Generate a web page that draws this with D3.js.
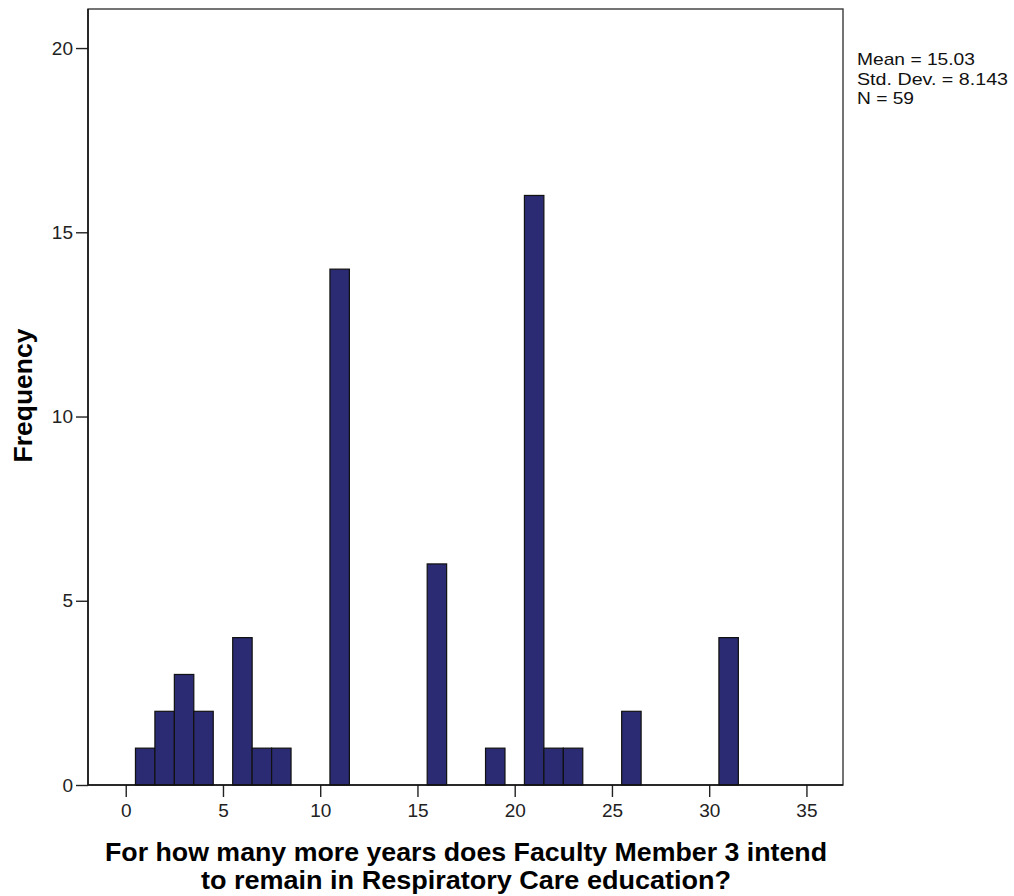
<!DOCTYPE html>
<html>
<head>
<meta charset="utf-8">
<script src="https://cdn.jsdelivr.net/npm/d3@7/dist/d3.min.js"></script>
<style>
  html, body { margin: 0; padding: 0; background: #fff; }
  svg { display: block; }
  text { font-family: "Liberation Sans", Arial, sans-serif; }
</style>
</head>
<body>
<script>
// Data
const binCenters = [1, 2, 3, 4, 6, 7, 8, 11, 16, 19, 21, 22, 23, 26, 31];
const frequencies = [1, 2, 3, 2, 4, 1, 1, 14, 6, 1, 16, 1, 1, 2, 4];
const binWidth = 1;
const xTickValues = [0, 5, 10, 15, 20, 25, 30, 35];
const yTickValues = [0, 5, 10, 15, 20];
const statsLines = ["Mean = 15.03", "Std. Dev. = 8.143", "N = 59"];
const statsWidths = [118, 151, 57];
const xTitleLines = ["For how many more years does Faculty Member 3 intend", "to remain in Respiratory Care education?"];
const xTitleWidths = [722, 530];
const yTitle = "Frequency";

const W = 1014, H = 896;
const plot = { left: 88, right: 843, top: 9, bottom: 785 };

const svg = d3.select("body").append("svg").attr("width", W).attr("height", H);

const x = d3.scaleLinear().domain([-1.94, 36.88]).range([plot.left, plot.right]);
const y = d3.scaleLinear().domain([0, 21.06]).range([plot.bottom, plot.top]);

// Frame
svg.append("rect")
  .attr("x", plot.left).attr("y", plot.top)
  .attr("width", plot.right - plot.left).attr("height", plot.bottom - plot.top)
  .attr("fill", "none").attr("stroke", "#3a3a3a").attr("stroke-width", 1.4);

// Bars
const data = binCenters.map((c, i) => ({ c, f: frequencies[i] }));
svg.append("g").selectAll("rect").data(data).join("rect")
  .attr("x", d => x(d.c - binWidth / 2))
  .attr("y", d => y(d.f))
  .attr("width", d => x(d.c + binWidth / 2) - x(d.c - binWidth / 2))
  .attr("height", d => y(0) - y(d.f))
  .attr("fill", "#2a2b72")
  .attr("stroke", "#111")
  .attr("stroke-width", 1.2);

// Axes
const xAxis = svg.append("g").attr("transform", `translate(0,${plot.bottom})`)
  .call(d3.axisBottom(x).tickValues(xTickValues).tickSize(12).tickSizeOuter(0).tickPadding(7));
const yAxis = svg.append("g").attr("transform", `translate(${plot.left},0)`)
  .call(d3.axisLeft(y).tickValues(yTickValues).tickSize(12).tickSizeOuter(0).tickPadding(3));
[xAxis, yAxis].forEach(g => {
  g.select(".domain").remove();
  g.selectAll(".tick line").attr("stroke", "#222").attr("stroke-width", 1.4);
  g.selectAll(".tick text").attr("fill", "#222")
    .style("font-family", '"Liberation Sans", Arial, sans-serif').style("font-size", "19px");
});
svg.append("line").attr("x1", plot.left).attr("x2", plot.left).attr("y1", plot.top).attr("y2", plot.bottom)
  .attr("stroke", "#111").attr("stroke-width", 1.5);
svg.append("line").attr("x1", plot.left).attr("x2", plot.right).attr("y1", plot.bottom).attr("y2", plot.bottom)
  .attr("stroke", "#111").attr("stroke-width", 1.5);

// Stats annotation
statsLines.forEach((t, i) => {
  svg.append("text")
    .attr("x", 857).attr("y", 65 + i * 19.5)
    .attr("textLength", statsWidths[i])
    .attr("lengthAdjust", "spacingAndGlyphs")
    .attr("fill", "#111").style("font-size", "17px")
    .text(t);
});

// X title
xTitleLines.forEach((t, i) => {
  svg.append("text")
    .attr("x", 466).attr("y", 861 + i * 28)
    .attr("text-anchor", "middle")
    .attr("textLength", xTitleWidths[i])
    .attr("lengthAdjust", "spacingAndGlyphs")
    .style("font-size", "25px").style("font-weight", "bold")
    .attr("fill", "#000")
    .text(t);
});

// Y title
svg.append("text")
  .attr("transform", "translate(32,395.5) rotate(-90)")
  .attr("text-anchor", "middle")
  .style("font-size", "26.5px").style("font-weight", "bold")
  .attr("fill", "#000")
  .text(yTitle);
</script>
</body>
</html>
